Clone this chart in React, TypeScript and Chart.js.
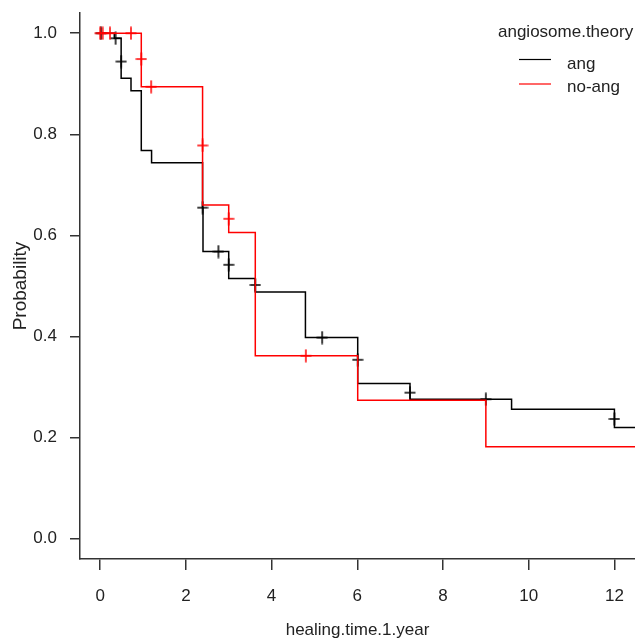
import React, { useEffect, useRef } from "react";
import { Chart, registerables } from "chart.js";

Chart.register(...registerables);

// ---- data ----
const groupNames = ["ang", "no-ang"];
const legendTitle = "angiosome.theory";
const xTitle = "healing.time.1.year";
const yTitle = "Probability";

const xTicks = [0, 2, 4, 6, 8, 10, 12];
const yTicks = [0, 0.2, 0.4, 0.6, 0.8, 1.0];

// Kaplan–Meier step curve, group "ang"
const angTimes = [0, 0.33, 0.49, 0.49, 0.72, 0.96, 1.2, 2.39, 2.4, 3.0, 3.0, 3.62, 3.62, 4.79, 6.01, 6.01, 7.23, 7.23, 9.6, 12.0, 12.0, 12.48];
const angSurv = [1.0, 0.99, 0.944, 0.911, 0.886, 0.768, 0.744, 0.655, 0.568, 0.542, 0.515, 0.502, 0.488, 0.398, 0.354, 0.307, 0.289, 0.276, 0.256, 0.237, 0.22, 0.22];
const angCensorTimes = [0.02, 0.36, 0.49, 2.39, 2.76, 3.0, 3.62, 5.18, 6.01, 7.23, 9.0, 12.0];
const angCensorSurv = [1.0, 0.99, 0.944, 0.655, 0.568, 0.542, 0.502, 0.398, 0.354, 0.289, 0.276, 0.237];

// Kaplan–Meier step curve, group "no-ang"
const noAngTimes = [0, 0.96, 0.96, 2.39, 2.39, 3.0, 3.0, 3.62, 6.01, 9.0, 12.48];
const noAngSurv = [1.0, 0.949, 0.894, 0.778, 0.66, 0.633, 0.606, 0.362, 0.274, 0.182, 0.182];
const noAngCensorTimes = [0.0, 0.06, 0.23, 0.72, 0.96, 1.19, 2.39, 3.0, 4.8];
const noAngCensorSurv = [1.0, 1.0, 1.0, 1.0, 0.949, 0.894, 0.778, 0.633, 0.362];

// ---- styles ----
const FONT = "'Liberation Sans', Arial, sans-serif";
const TEXT = "#222222";
const AXIS = "#333333";
const BLACK = "#000000";
const RED = "#ff0000";

function makePlus(color: string): HTMLCanvasElement {
  const c = document.createElement("canvas");
  c.width = 12;
  c.height = 14;
  const g = c.getContext("2d")!;
  g.strokeStyle = color;
  g.lineWidth = 1.5;
  g.beginPath();
  g.moveTo(0.5, 7);
  g.lineTo(11.5, 7);
  g.moveTo(6, 0.5);
  g.lineTo(6, 13.5);
  g.stroke();
  return c;
}

const toPts = (xs: number[], ys: number[]) => xs.map((x, i) => ({ x, y: ys[i] }));

const legendPlugin = {
  id: "kmLegend",
  afterDraw(chart: any) {
    const ctx = chart.ctx as CanvasRenderingContext2D;
    ctx.save();
    ctx.font = `17px ${FONT}`;
    ctx.fillStyle = TEXT;
    ctx.textAlign = "left";
    ctx.textBaseline = "alphabetic";
    ctx.fillText(legendTitle, 498, 37);
    const colors = [BLACK, RED];
    groupNames.forEach((name, i) => {
      const ly = 59.5 + i * 24.5;
      ctx.strokeStyle = colors[i];
      ctx.lineWidth = 1.2;
      ctx.beginPath();
      ctx.moveTo(519, ly);
      ctx.lineTo(551, ly);
      ctx.stroke();
      ctx.fillStyle = TEXT;
      ctx.fillText(name, 567, 68.5 + i * 23.5);
    });
    ctx.restore();
  },
};

const zeroPad = (s: any) => {
  s.paddingLeft = 0;
  s.paddingRight = 0;
  s.paddingTop = 0;
  s.paddingBottom = 0;
};

export default function App() {
  const ref = useRef<HTMLCanvasElement | null>(null);

  useEffect(() => {
    if (!ref.current) return;
    const plusBlack = makePlus(BLACK);
    const plusRed = makePlus(RED);

    const tickFont = { family: FONT, size: 17 };

    const chart = new Chart(ref.current, {
      type: "line",
      data: {
        datasets: [
          {
            label: "no-ang censor",
            data: toPts(noAngCensorTimes, noAngCensorSurv),
            showLine: false,
            pointStyle: plusRed as any,
            pointRadius: 5,
            borderColor: RED,
            backgroundColor: RED,
          },
          {
            label: "no-ang",
            data: toPts(noAngTimes, noAngSurv),
            stepped: "before",
            borderColor: RED,
            borderWidth: 1.5,
            pointRadius: 0,
            fill: false,
          },
          {
            label: "ang censor",
            data: toPts(angCensorTimes, angCensorSurv),
            showLine: false,
            pointStyle: plusBlack as any,
            pointRadius: 5,
            borderColor: BLACK,
            backgroundColor: BLACK,
          },
          {
            label: "ang",
            data: toPts(angTimes, angSurv),
            stepped: "before",
            borderColor: BLACK,
            borderWidth: 1.5,
            pointRadius: 0,
            fill: false,
          },
        ],
      },
      options: {
        animation: false,
        responsive: false,
        devicePixelRatio: 1,
        layout: { autoPadding: false, padding: { top: 13, left: 0, right: 0, bottom: 0 } },
        plugins: {
          legend: { display: false },
          tooltip: { enabled: false },
        },
        scales: {
          x: {
            type: "linear",
            min: -0.47,
            max: 12.48,
            afterBuildTicks: (s: any) => {
              s.ticks = xTicks.map((v) => ({ value: v }));
            },
            afterFit: (s: any) => {
              s.height = 81;
              zeroPad(s);
            },
            ticks: {
              font: tickFont,
              color: TEXT,
              padding: 16,
              maxRotation: 0,
              autoSkip: false,
              callback: (v: any) => String(v),
            },
            grid: {
              display: true,
              drawOnChartArea: false,
              drawTicks: true,
              tickLength: 11,
              color: AXIS,
              lineWidth: 1.5,
            },
            border: { display: true, color: AXIS, width: 1.5 },
            title: {
              display: true,
              text: xTitle,
              color: TEXT,
              font: { family: FONT, size: 17, lineHeight: 1 },
              padding: { top: 0, bottom: 1 },
            },
          },
          y: {
            type: "linear",
            min: -0.04,
            max: 1.04,
            afterBuildTicks: (s: any) => {
              s.ticks = yTicks.map((v) => ({ value: v }));
            },
            afterFit: (s: any) => {
              s.width = 80;
              zeroPad(s);
            },
            ticks: {
              font: tickFont,
              color: TEXT,
              padding: 13,
              autoSkip: false,
              callback: (v: any) => Number(v).toFixed(1),
            },
            grid: {
              display: true,
              drawOnChartArea: false,
              drawTicks: true,
              tickLength: 10,
              color: AXIS,
              lineWidth: 1.5,
            },
            border: { display: true, color: AXIS, width: 1.5 },
            title: {
              display: true,
              text: yTitle,
              color: TEXT,
              font: { family: FONT, size: 19, lineHeight: 1 },
              padding: { top: 11, bottom: 0 },
            },
          },
        },
      },
      plugins: [legendPlugin],
    });
    return () => chart.destroy();
  }, []);

  return (
    <div style={{ position: "absolute", left: 0, top: 0, width: 635, height: 640, background: "#ffffff" }}>
      <canvas ref={ref} width={635} height={640} style={{ width: 635, height: 640, display: "block" }} />
    </div>
  );
}
